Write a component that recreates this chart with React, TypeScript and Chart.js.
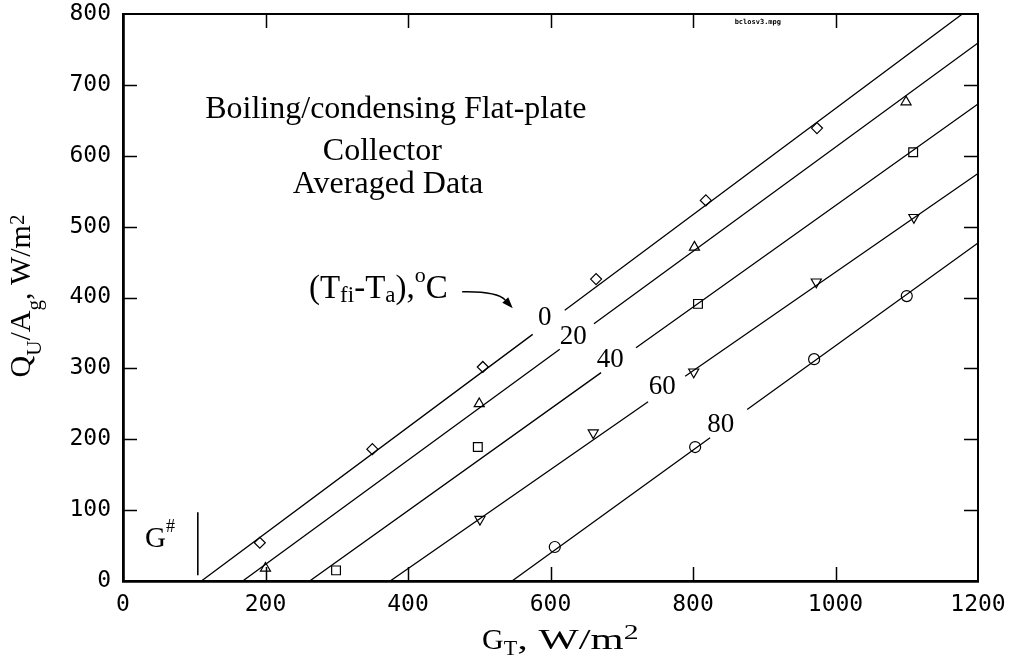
import React, { useEffect, useRef } from "react";
import { Chart, registerables } from "chart.js";

Chart.register(...registerables);

// ---- Data ----
// Fitted lines for each (Tfi - Ta) level; null marks the gap left for the curve label
const line0X = [110, 575, 597, 620, 1178];
const line0Y = [0, 348, null, 382, 800];
const line20X = [168, 613, 637, 661, 1200];
const line20Y = [0, 327, null, 363, 759];
const line40X = [262, 671, 695, 720, 1200];
const line40Y = [0, 294, null, 329, 673];
const line60X = [375, 737, 763, 789, 1200];
const line60Y = [0, 253, null, 289, 575];
const line80X = [546, 824, 850, 876, 1200];
const line80Y = [0, 202, null, 242, 477];

// Measured (averaged) data points
const diamondX = [192, 350, 505, 664, 818, 974];
const diamondY = [54, 186, 302, 426, 537, 639];
const triUpX = [200, 500, 802, 1099];
const triUpY = [18, 250, 471, 676];
const squareX = [299, 498, 807, 1109];
const squareY = [15, 189, 391, 605];
const triDownX = [501, 660, 801, 973, 1110];
const triDownY = [87, 209, 295, 422, 513];
const circleX = [606, 803, 970, 1100];
const circleY = [48, 189, 313, 402];

// G# marker line
const gMarkX = [105, 105];
const gMarkY = [8, 97];

// Curve labels
const curveLabels = ["0", "20", "40", "60", "80"];
const curveLabelX = [592, 632, 684, 757, 839];
const curveLabelY = [361, 334, 302, 264, 210];

// Axis ranges
const X_MIN = 0, X_MAX = 1200, X_STEP = 200;
const Y_MIN = 0, Y_MAX = 800, Y_STEP = 100;

const SERIF = '"Liberation Serif", "Times New Roman", serif';
const MONO = '"DejaVu Sans Mono", monospace';

type Run = { t: string; size: number; dy?: number; sx?: number };

function runWidth(ctx: CanvasRenderingContext2D, r: Run) {
  ctx.font = `${r.size}px ${SERIF}`;
  return ctx.measureText(r.t).width * (r.sx ?? 1);
}

function drawRich(ctx: CanvasRenderingContext2D, runs: Run[], x: number, y: number, align: "left" | "center") {
  const total = runs.reduce((s, r) => s + runWidth(ctx, r), 0);
  let cx = align === "center" ? x - total / 2 : x;
  ctx.textAlign = "left";
  ctx.textBaseline = "alphabetic";
  for (const r of runs) {
    const w = runWidth(ctx, r);
    ctx.font = `${r.size}px ${SERIF}`;
    ctx.save();
    ctx.translate(cx, y + (r.dy ?? 0));
    ctx.scale(r.sx ?? 1, 1);
    ctx.fillText(r.t, 0, 0);
    ctx.restore();
    cx += w;
  }
}

const pts = (xs: number[], ys: (number | null)[]) => xs.map((x, i) => ({ x, y: ys[i] }));

const noPad = (s: any) => {
  s.paddingLeft = 0;
  s.paddingRight = 0;
  s.paddingTop = 0;
  s.paddingBottom = 0;
};

const overlayPlugin = {
  id: "overlay",
  afterDraw(chart: any) {
    const ctx: CanvasRenderingContext2D = chart.ctx;
    const xs = chart.scales.x;
    const ys = chart.scales.y;
    const ca = chart.chartArea;
    const px = (v: number) => xs.getPixelForValue(v);
    const py = (v: number) => ys.getPixelForValue(v);
    ctx.save();
    ctx.strokeStyle = "#000";
    ctx.fillStyle = "#000";

    // inward tick marks
    ctx.lineWidth = 1.5;
    const TL = 14;
    xs.ticks.forEach((t: any) => {
      if (t.value <= X_MIN || t.value >= X_MAX) return;
      const x = Math.round(px(t.value)) + 0.5;
      ctx.beginPath();
      ctx.moveTo(x, ca.bottom); ctx.lineTo(x, ca.bottom - TL);
      ctx.moveTo(x, ca.top); ctx.lineTo(x, ca.top + TL);
      ctx.stroke();
    });
    ys.ticks.forEach((t: any) => {
      if (t.value <= Y_MIN || t.value >= Y_MAX) return;
      const y = Math.round(py(t.value)) + 0.5;
      ctx.beginPath();
      ctx.moveTo(ca.left, y); ctx.lineTo(ca.left + TL, y);
      ctx.moveTo(ca.right, y); ctx.lineTo(ca.right - TL, y);
      ctx.stroke();
    });

    // annotation block
    drawRich(ctx, [{ t: "Boiling/condensing Flat-plate", size: 32 }], px(383), py(653), "center");
    drawRich(ctx, [{ t: "Collector", size: 32 }], px(364), py(594), "center");
    drawRich(ctx, [{ t: "Averaged Data", size: 32 }], px(372), py(547), "center");

    // (Tfi-Ta),oC
    drawRich(ctx, [
      { t: "(T", size: 33 },
      { t: "fi", size: 23, dy: 4 },
      { t: "-T", size: 33 },
      { t: "a", size: 23, dy: 4 },
      { t: "),", size: 33 },
      { t: "o", size: 22, dy: -16 },
      { t: "C", size: 33 },
    ], px(261), py(399), "left");

    // curved arrow
    const sx0 = px(476), sy0 = py(408);
    const cx0 = px(525), cy0 = py(409);
    const ex = px(547), ey = py(385);
    const ang = Math.atan2(ey - cy0, ex - cx0);
    const AL = 11, AW = 4;
    const bx = ex - AL * Math.cos(ang), by = ey - AL * Math.sin(ang);
    ctx.lineWidth = 1.5;
    ctx.beginPath();
    ctx.moveTo(sx0, sy0);
    ctx.quadraticCurveTo(cx0, cy0, bx, by);
    ctx.stroke();
    ctx.beginPath();
    ctx.moveTo(ex, ey);
    ctx.lineTo(bx + AW * Math.sin(ang), by - AW * Math.cos(ang));
    ctx.lineTo(bx - AW * Math.sin(ang), by + AW * Math.cos(ang));
    ctx.closePath();
    ctx.fill();

    // curve labels
    curveLabels.forEach((s, i) => {
      drawRich(ctx, [{ t: s, size: 27 }], px(curveLabelX[i]), py(curveLabelY[i]), "center");
    });

    // G#
    drawRich(ctx, [{ t: "G", size: 29 }, { t: "#", size: 18, dy: -15 }], px(31), py(48), "left");

    // small file tag
    ctx.font = `bold 7px ${MONO}`;
    ctx.textAlign = "center";
    ctx.textBaseline = "middle";
    ctx.fillText("bclosv3.mpg", px(891), py(788));

    // x axis title
    drawRich(ctx, [
      { t: "G", size: 30 },
      { t: "T", size: 22, dy: 6 },
      { t: ", W/m", size: 30, sx: 1.42 },
      { t: "2", size: 21, dy: -10, sx: 1.42 },
    ], px(504), ca.bottom + 68, "left");

    // y axis title (rotated)
    ctx.save();
    ctx.translate(30, ca.top + 282);
    ctx.rotate(-Math.PI / 2);
    drawRich(ctx, [
      { t: "Q", size: 30 },
      { t: "U", size: 21, dy: 11 },
      { t: "/A", size: 30 },
      { t: "g", size: 21, dy: 11 },
      { t: ", W/m", size: 30 },
      { t: "2", size: 21, dy: -6 },
    ], 0, 0, "center");
    ctx.restore();

    ctx.restore();
  },
};

export default function App() {
  const ref = useRef<HTMLCanvasElement>(null);

  useEffect(() => {
    document.body.style.margin = "0";
    const canvas = ref.current!;
    const lineDs = (xs: number[], ys: (number | null)[]) => ({
      data: pts(xs, ys),
      showLine: true,
      spanGaps: false,
      borderColor: "#000",
      borderWidth: 1.3,
      pointRadius: 0,
      pointHoverRadius: 0,
      fill: false,
    });
    const markDs = (xs: number[], ys: number[], style: string, r: number, rot = 0) => ({
      data: pts(xs, ys),
      showLine: false,
      pointStyle: style,
      pointRadius: r,
      pointRotation: rot,
      pointBorderColor: "#000",
      pointBackgroundColor: "rgba(0,0,0,0)",
      pointBorderWidth: 1.2,
      borderColor: "#000",
      backgroundColor: "rgba(0,0,0,0)",
    });

    const chart = new Chart(canvas, {
      type: "scatter",
      data: {
        datasets: [
          lineDs(line0X, line0Y),
          lineDs(line20X, line20Y),
          lineDs(line40X, line40Y),
          lineDs(line60X, line60Y),
          lineDs(line80X, line80Y),
          { ...lineDs(gMarkX, gMarkY), borderWidth: 1.6 },
          markDs(diamondX, diamondY, "rectRot", 5.5),
          markDs(triUpX, triUpY, "triangle", 5.8),
          markDs(squareX, squareY, "rect", 6.2),
          markDs(triDownX, triDownY, "triangle", 5.8, 180),
          markDs(circleX, circleY, "circle", 5.5),
        ] as any,
      },
      options: {
        responsive: false,
        animation: false,
        devicePixelRatio: 1,
        layout: { padding: 0 },
        plugins: { legend: { display: false }, tooltip: { enabled: false }, title: { display: false } },
        scales: {
          x: {
            type: "linear",
            position: "bottom",
            min: X_MIN,
            max: X_MAX,
            ticks: {
              stepSize: X_STEP, color: "#000", font: { family: MONO, size: 23 }, padding: 10, maxRotation: 0,
              callback: (v: any) => String(v),
            },
            grid: { display: false, drawTicks: false },
            border: { display: true, color: "#000", width: 2.8 },
            afterFit: (s: any) => { s.height = 78; noPad(s); },
          },
          x2: {
            type: "linear",
            position: "top",
            min: X_MIN,
            max: X_MAX,
            ticks: { display: false },
            grid: { display: false, drawTicks: false },
            border: { display: true, color: "#000", width: 2 },
            afterFit: (s: any) => { s.height = 14; noPad(s); },
          },
          y: {
            type: "linear",
            position: "left",
            min: Y_MIN,
            max: Y_MAX,
            ticks: { stepSize: Y_STEP, color: "#000", font: { family: MONO, size: 23 }, padding: 12, callback: (v: any) => String(v) },
            grid: { display: false, drawTicks: false },
            border: { display: true, color: "#000", width: 2.8 },
            afterFit: (s: any) => { s.width = 123; noPad(s); },
          },
          y2: {
            type: "linear",
            position: "right",
            min: Y_MIN,
            max: Y_MAX,
            ticks: { display: false },
            grid: { display: false, drawTicks: false },
            border: { display: true, color: "#000", width: 2 },
            afterFit: (s: any) => { s.width = 35; noPad(s); },
          },
        },
      } as any,
      plugins: [overlayPlugin],
    });
    return () => chart.destroy();
  }, []);

  return (
    <div style={{ width: 1013, height: 659, background: "#fff" }}>
      <canvas ref={ref} width={1013} height={659} style={{ display: "block" }} />
    </div>
  );
}
